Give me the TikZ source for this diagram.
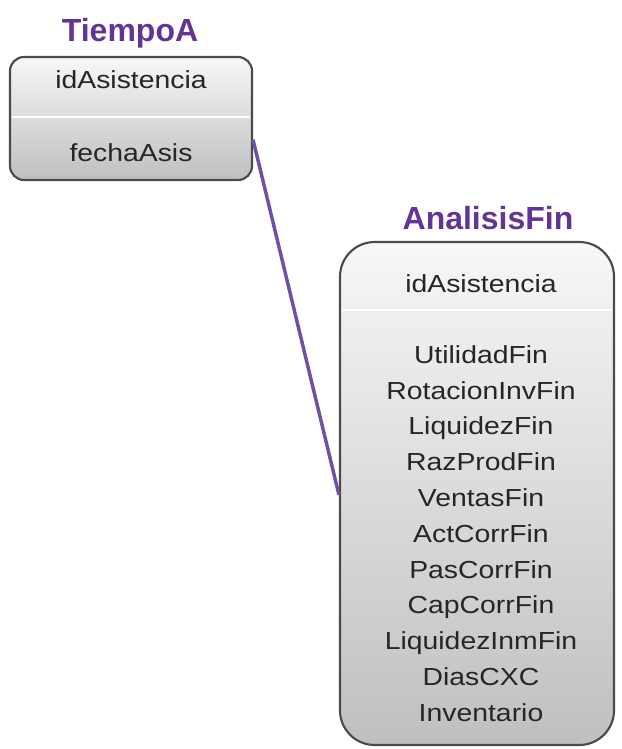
\documentclass[tikz,border=0pt]{standalone}
\usepackage{fontspec}
\setmainfont{Liberation Sans}
\usetikzlibrary{positioning}

\definecolor{titlepurple}{RGB}{98,52,150}
\definecolor{linkpurple}{RGB}{112,80,165}
\definecolor{boxedge}{RGB}{75,75,75}

\newcommand{\field}[1]{\scalebox{1.15}[1]{#1}}

\tikzset{
  table/.style={draw=boxedge, line width=1.6pt, top color=gray!6, bottom color=gray!50,
    inner sep=0pt},
  tabletitle/.style={font=\bfseries\fontsize{24}{26}\selectfont, text=titlepurple},
  fieldtext/.style={font=\fontsize{18.5}{20}\selectfont, text=black!85, inner sep=0pt,
    text height=0.72em, text depth=0.22em},
  divider/.style={white, line width=2pt},
  link/.style={linkpurple, line width=2.6pt}
}

\begin{document}
\begin{tikzpicture}[x=0.75pt, y=-0.75pt]
  \useasboundingbox (0,0) rectangle (621,749);

  % Tables
  \node [table, rounded corners=10.5pt, minimum width=181.5pt, minimum height=92.25pt]
    (tiempo) at (131,118.5) {};
  \node [table, rounded corners=26pt, minimum width=205.5pt, minimum height=377.25pt]
    (analisis) at (477,493.5) {};

  % Titles
  \node [tabletitle] (tiempoT) at (130,33) {TiempoA};
  \node [tabletitle] (analisisT) at (488,218) {AnalisisFin};

  % Key separators
  \draw [divider] (12,117) -- (250,117);
  \draw [divider] (342,310) -- (612,310);

  % TiempoA fields
  \node [fieldtext] (tKey) at (131,85) {\field{idAsistencia}};
  \node [fieldtext] (tFecha) at (131,158) {\field{fechaAsis}};

  % AnalisisFin fields
  \node [fieldtext] (aKey) at (481,289) {\field{idAsistencia}};
  \foreach \name [count=\i from 0] in {UtilidadFin, RotacionInvFin, LiquidezFin,
      RazProdFin, VentasFin, ActCorrFin, PasCorrFin, CapCorrFin, LiquidezInmFin,
      DiasCXC, Inventario} {
    % one row every 35.8 px
    \pgfmathsetmacro\y{360 + 35.8*\i}
    \node [fieldtext] (a\i) at (481,\y) {\field{\name}};
  }

  % Relationship
  \coordinate (tEnd) at ([yshift=-16pt]tiempo.east);
  \coordinate (aEnd) at ([yshift=-1pt]analisis.west);
  \draw [link] (tEnd) -- (aEnd);
\end{tikzpicture}
\end{document}
